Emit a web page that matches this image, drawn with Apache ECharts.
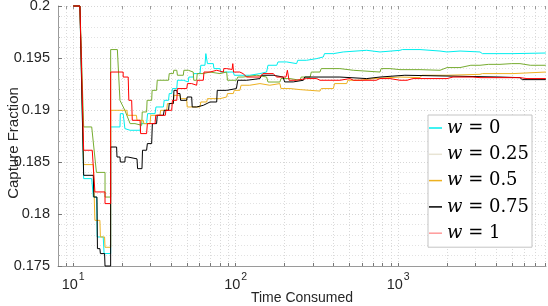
<!DOCTYPE html>
<html><head><meta charset="utf-8">
<script src="https://cdn.jsdelivr.net/npm/echarts@6/dist/echarts.min.js"></script>
<style>html,body{margin:0;padding:0;background:#fff}#c{width:548px;height:306px}</style>
</head><body><div id="c"></div>
<script>
const seriesNames = ['w = 0', 'w = 0.25', 'w = 0.5', 'w = 0.75', 'w = 1'];
const lineColors = ['#00eeee', '#77ac30', '#edb120', '#000000', '#ff0000'];
const legendColors = ['#00eeee', '#e8e4d4', '#edb120', '#000000', '#ff9a9a'];

const xMajorTicks = [10, 100, 1000];
const xMinorTicks = [9, 20, 30, 40, 50, 60, 70, 80, 90, 200, 300, 400, 500, 600, 700, 800, 900, 2000, 3000, 4000, 5000, 6000, 7000, 8000];
const xRange = [8.063, 8121];
const yMin = 0.175, yMax = 0.2, yStep = 0.005;

const w0 = [[10,0.2],[11,0.2],[11.6,0.1834],[13,0.1834],[13.3,0.18163],[13.95,0.18163],[14.05,0.17779],[15.3,0.17779],[15.5,0.1762],[17,0.1762],[17,0.18837],[19.4,0.18837],[19.5,0.18965],[20.3,0.18965],[20.8,0.18821],[22.4,0.18805],[25.8,0.18805],[26.2,0.18869],[28.3,0.18869],[28.7,0.18965],[31.9,0.18965],[32.3,0.19029],[35.9,0.19029],[36.3,0.19093],[38.6,0.19093],[39,0.19158],[40.4,0.19158],[40.8,0.19206],[43.4,0.19206],[43.8,0.19286],[47.6,0.19286],[48,0.1927],[51.1,0.1927],[51.5,0.19317],[54.8,0.19317],[55.2,0.1935],[60.3,0.1935],[61,0.1943],[64.7,0.1943],[65.5,0.19542],[66.3,0.19542],[67,0.19446],[72.8,0.19446],[73.5,0.19398],[80,0.19398],[81,0.19365],[96.6,0.19365],[98,0.19334],[122,0.19334],[124,0.1935],[141,0.1935],[143,0.19365],[155,0.19365],[158,0.1943],[179,0.1943],[182,0.19462],[206,0.19462],[210,0.19446],[237,0.19446],[241,0.19478],[273,0.19478],[278,0.19494],[315,0.19494],[320,0.1951],[346,0.1951],[352,0.19542],[399,0.19542],[405,0.19558],[459,0.19558],[466,0.19574],[640,0.19574],[650,0.19558],[773,0.19558],[785,0.19574],[1026,0.19574],[1060,0.19581],[1362,0.19581],[1400,0.19567],[1808,0.19567],[1850,0.19558],[1997,0.19558],[2050,0.19567],[2401,0.19567],[2450,0.19558],[3187,0.19558],[3300,0.19542],[5088,0.19542],[5200,0.19548],[8100,0.19548]];

const w025 = [[10,0.2],[11,0.2],[11.6,0.18837],[13,0.18837],[13.9,0.184],[15.7,0.184],[15.7,0.18163],[17,0.18163],[17,0.19581],[18.7,0.19581],[19.4,0.19093],[20.8,0.18997],[22.4,0.18869],[24,0.18869],[24.5,0.18853],[26.4,0.18853],[26.6,0.18981],[28.3,0.18981],[28.5,0.19093],[30.4,0.19093],[30.6,0.19189],[32.6,0.19189],[32.9,0.19286],[38.6,0.19286],[39,0.1935],[41.3,0.1935],[41.6,0.19382],[43.4,0.19382],[43.8,0.19334],[47.6,0.19334],[48,0.19382],[51.1,0.19382],[51.5,0.19365],[54.8,0.19365],[55.2,0.19286],[57.5,0.19286],[58,0.1935],[63.2,0.1935],[63.6,0.19365],[69.5,0.19365],[70,0.1935],[80,0.1935],[81,0.19365],[88,0.19365],[89,0.19286],[101,0.19286],[103,0.19317],[111,0.19317],[113,0.19334],[135,0.19334],[138,0.19317],[155,0.19317],[158,0.19269],[187,0.19269],[190,0.19302],[216,0.19302],[220,0.19286],[249,0.19286],[253,0.19317],[287,0.19317],[292,0.19365],[330,0.19365],[336,0.19398],[438,0.19398],[445,0.19382],[529,0.19382],[537,0.19365],[773,0.19365],[785,0.19398],[890,0.19398],[900,0.19391],[1026,0.19388],[1362,0.19388],[1808,0.19382],[2000,0.19408],[2401,0.19408],[2800,0.1943],[3187,0.1943],[3600,0.19439],[4232,0.19439],[5000,0.19446],[5617,0.19446],[6500,0.1943],[8100,0.1943]];

const w05 = [[10,0.2],[11,0.2],[11.6,0.18475],[13.3,0.18475],[13.6,0.17939],[14.6,0.17939],[14.7,0.17779],[15.6,0.17779],[15.7,0.1768],[17,0.1768],[17,0.18997],[21.4,0.18997],[21.6,0.18949],[24.5,0.18949],[24.7,0.18901],[27,0.18901],[27.2,0.18869],[29.7,0.18869],[30,0.18949],[34.2,0.18949],[34.5,0.18997],[37.6,0.18997],[38,0.19062],[41.3,0.19062],[41.7,0.19141],[45.4,0.19141],[45.8,0.19109],[49.9,0.19109],[50.3,0.19029],[60.3,0.19029],[61,0.19077],[66.3,0.19077],[67,0.19109],[80,0.19109],[81,0.19125],[88,0.19125],[89,0.19158],[96.7,0.19158],[98,0.19189],[106,0.19189],[108,0.19238],[122,0.19238],[124,0.19254],[141,0.19254],[143,0.19238],[162,0.19238],[165,0.19254],[187,0.19254],[190,0.19206],[216,0.19206],[220,0.19196],[249,0.19196],[253,0.19189],[287,0.19189],[292,0.19182],[330,0.19182],[336,0.19206],[399,0.19206],[406,0.19254],[482,0.19254],[490,0.19286],[582,0.19286],[592,0.19302],[703,0.19302],[715,0.19317],[1026,0.19317],[1050,0.19311],[1362,0.19311],[1400,0.19334],[1997,0.19334],[2050,0.19343],[3187,0.19343],[3300,0.1935],[5088,0.1935],[5200,0.19365],[8100,0.19365]];

const w075 = [[10,0.2],[11,0.2],[11.6,0.18372],[13.3,0.18372],[13.4,0.18163],[14,0.18163],[14.1,0.17667],[14.6,0.17667],[14.7,0.17619],[15.6,0.17619],[15.7,0.175],[17,0.175],[17,0.18644],[18.5,0.18644],[18.6,0.18548],[19.4,0.18548],[19.5,0.185],[20.8,0.185],[20.9,0.18548],[21.7,0.18548],[21.8,0.1853],[24.7,0.1853],[24.9,0.18436],[26.5,0.18436],[26.7,0.18613],[28.3,0.18613],[28.6,0.18677],[30.4,0.18677],[30.7,0.18869],[32.6,0.18869],[32.9,0.18949],[35.9,0.18949],[36.3,0.18997],[38.6,0.18997],[39,0.19062],[41.3,0.19062],[41.7,0.19189],[43.4,0.19189],[43.8,0.19158],[45.4,0.19158],[45.8,0.19093],[49.9,0.19093],[50.3,0.19125],[53.6,0.19125],[54,0.19029],[57.5,0.19029],[58,0.19045],[63.2,0.19045],[63.6,0.19062],[69.5,0.19077],[76.4,0.19077],[77,0.19189],[88,0.19189],[89,0.19206],[101,0.19206],[103,0.19286],[117,0.19286],[120,0.19302],[141,0.19302],[144,0.19334],[170,0.19334],[174,0.19317],[196,0.19317],[200,0.1927],[226,0.1927],[230,0.19286],[261,0.19286],[266,0.19317],[438,0.19317],[445,0.19302],[640,0.19302],[650,0.19317],[773,0.19317],[785,0.19334],[1100,0.19334],[1130,0.19317],[4232,0.19317],[4300,0.19311],[5617,0.19311],[5800,0.19292],[8100,0.19292]];

const w1 = [[10,0.2],[11,0.2],[11.6,0.18613],[13.1,0.18613],[13.6,0.18212],[15.7,0.18212],[15.7,0.181],[17,0.181],[17,0.19365],[20.3,0.19365],[20.3,0.19317],[21.8,0.19317],[22,0.19093],[22.9,0.19093],[23.1,0.18901],[25.8,0.18901],[26,0.18773],[28.3,0.18773],[28.6,0.18869],[31.9,0.18869],[32.2,0.18949],[36.9,0.18949],[37.2,0.18997],[40.4,0.18997],[40.8,0.19093],[43.4,0.19093],[43.8,0.19206],[50,0.19206],[50.5,0.19254],[53.6,0.19254],[54,0.19238],[57.5,0.19238],[58,0.19286],[63.2,0.19286],[63.8,0.19365],[69.5,0.19365],[70,0.19382],[76.4,0.19382],[77,0.19365],[84,0.19365],[84.5,0.19398],[88,0.19398],[89,0.1939],[95,0.1939],[96,0.19446],[97,0.19365],[106,0.19365],[111,0.1935],[117,0.19317],[141,0.19317],[147,0.1935],[170,0.1935],[179,0.19317],[204,0.19317],[208,0.19382],[213,0.19286],[237,0.19286],[273,0.19302],[315,0.19302],[330,0.19286],[438,0.19286],[505,0.19302],[530,0.19286],[735,0.19286],[770,0.19302],[890,0.19302],[1026,0.19286],[1133,0.19286],[1233,0.19302],[1997,0.19302],[2174,0.19317],[2886,0.19317],[3187,0.19311],[5617,0.19311],[6200,0.19302],[8100,0.19302]];

const seriesData = [w0, w025, w05, w075, w1];

const lg = Math.log10;
const sansFont = 'Liberation Sans';
const textCol = '#262626';

const chart = echarts.init(document.getElementById('c'), null, {renderer: 'canvas'});
chart.setOption({
  animation: false,
  backgroundColor: '#ffffff',
  grid: {left: 58, right: 2, top: 6, bottom: 40, containLabel: false, outerBoundsMode: 'none'},
  xAxis: [
    {
      type: 'value', min: lg(xRange[0]), max: lg(xRange[1]), position: 'bottom',
      axisLine: {show: true, onZero: false, lineStyle: {color: '#9a9a9a', width: 1}},
      axisTick: {show: true, inside: true, length: 3, customValues: xMajorTicks.concat(xMinorTicks).map(lg), lineStyle: {color: '#777'}},
      axisLabel: {
        customValues: xMajorTicks.map(lg), margin: 6,
        formatter: v => '{b|10}{s|' + Math.round(v) + '}',
        rich: {
          b: {fontFamily: sansFont, fontSize: 14.5, color: textCol, lineHeight: 20, verticalAlign: 'bottom'},
          s: {fontFamily: sansFont, fontSize: 10.5, color: textCol, lineHeight: 20, verticalAlign: 'top', padding: [0, 0, 0, 1]}
        }
      },
      splitLine: {show: true, lineStyle: {color: '#d9d9d9', width: 1, type: [1, 2]}},
      name: 'Time Consumed', nameLocation: 'middle', nameGap: 25, nameMoveOverlap: false,
      nameTextStyle: {fontFamily: sansFont, fontSize: 14, color: textCol}
    },
    {
      type: 'value', min: lg(xRange[0]), max: lg(xRange[1]), position: 'top',
      axisLine: {show: false},
      axisTick: {show: true, inside: true, length: 3, customValues: xMajorTicks.concat(xMinorTicks).map(lg), lineStyle: {color: '#9a9a9a'}},
      axisLabel: {show: false},
      splitLine: {show: false}
    }
  ],
  yAxis: {
    type: 'value', min: yMin, max: yMax, interval: yStep,
    axisLine: {show: true, lineStyle: {color: '#9a9a9a', width: 1}},
    axisTick: {show: true, inside: true, length: 4, lineStyle: {color: '#777'}},
    minorTick: {show: true, splitNumber: 5, length: 2, lineStyle: {color: '#aaa'}},
    axisLabel: {fontFamily: sansFont, fontSize: 14.5, color: textCol, margin: 8, formatter: v => String(+v.toFixed(3))},
    splitLine: {show: true, lineStyle: {color: '#d6d6d6', width: 1, type: [1, 2]}},
    minorSplitLine: {show: true, lineStyle: {color: '#e2e2e2', width: 1, type: [1, 2]}},
    name: 'Capture Fraction', nameLocation: 'middle', nameGap: 37, nameMoveOverlap: false,
    nameTextStyle: {fontFamily: sansFont, fontSize: 15, color: textCol, padding: [0, 14, 0, 0]}
  },
  legend: {
    orient: 'vertical', left: 428, top: 115, padding: [4, 3, 5, 1], itemGap: 8.3,
    itemWidth: 13, itemHeight: 1.5, icon: 'rect',
    backgroundColor: '#ffffff', borderColor: '#c4c4c4', borderWidth: 1, borderRadius: 0,
    data: seriesNames.map((n, i) => ({name: n, itemStyle: {color: legendColors[i]}})),
    formatter: n => { const p = n.split(' = '); return '{i|' + p[0] + '}{e| = }{n|' + p[1] + '}'; },
    textStyle: {
      color: '#000',
      rich: {
        i: {fontFamily: 'DejaVu Serif', fontStyle: 'italic', fontSize: 18, lineHeight: 20, color: '#000'},
        e: {fontFamily: 'DejaVu Serif', fontSize: 18, lineHeight: 20, color: '#000'},
        n: {fontFamily: 'DejaVu Serif', fontSize: 18, lineHeight: 20, color: '#000'}
      }
    }
  },
  series: seriesNames.map((n, i) => ({
    name: n, type: 'line', xAxisIndex: 0, showSymbol: false, symbol: 'none', clip: false,
    lineStyle: {color: lineColors[i], width: 1}, itemStyle: {color: lineColors[i]},
    emphasis: {disabled: true},
    data: seriesData[i].map(p => [lg(p[0]), p[1]])
  }))
});
</script>
</body></html>
